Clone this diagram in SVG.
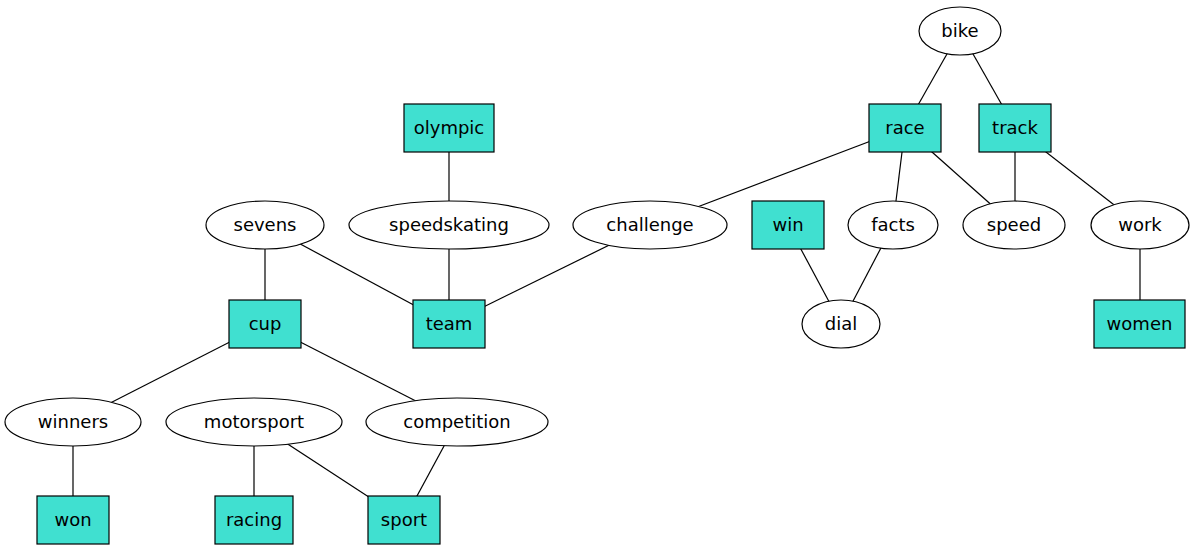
<svg xmlns="http://www.w3.org/2000/svg" width="1195" height="549" viewBox="0 0 1195 549">
<style>
.e{fill:#fff;stroke:#000;stroke-width:1.2}
.r{fill:#40e0d0;stroke:#000;stroke-width:1.2}
.c line{stroke:#000;stroke-width:1.2}
text{font-family:"DejaVu Sans",sans-serif;font-size:18px;text-anchor:middle;fill:#000}
</style>
<rect width="1195" height="549" fill="#fff"/>
<g id="connectors" class="c">
<line x1="960" y1="31" x2="905" y2="128"/>
<line x1="960" y1="31" x2="1015" y2="128"/>
<line x1="905" y1="128" x2="650" y2="225"/>
<line x1="905" y1="128" x2="893" y2="225"/>
<line x1="905" y1="128" x2="1014" y2="225"/>
<line x1="1015" y1="128" x2="1015" y2="225"/>
<line x1="1015" y1="128" x2="1140" y2="225"/>
<line x1="449" y1="128" x2="449" y2="225"/>
<line x1="449" y1="225" x2="449" y2="324"/>
<line x1="265" y1="225" x2="265" y2="324"/>
<line x1="265" y1="225" x2="449" y2="324"/>
<line x1="650" y1="225" x2="449" y2="324"/>
<line x1="788" y1="225" x2="841" y2="324"/>
<line x1="893" y1="225" x2="841" y2="324"/>
<line x1="1140" y1="225" x2="1140" y2="324"/>
<line x1="265" y1="324" x2="73" y2="422"/>
<line x1="265" y1="324" x2="457" y2="422"/>
<line x1="73" y1="422" x2="73" y2="520"/>
<line x1="254" y1="422" x2="254" y2="520"/>
<line x1="254" y1="422" x2="404" y2="520"/>
<line x1="457" y1="422" x2="404" y2="520"/>
</g>
<g id="bike"><ellipse class="e" cx="960" cy="31" rx="41" ry="24"/><text x="960" y="37">bike</text></g>
<g id="race"><rect class="r" x="869" y="104" width="72" height="48"/><text x="905" y="134">race</text></g>
<g id="track"><rect class="r" x="979" y="104" width="72" height="48"/><text x="1015" y="134">track</text></g>
<g id="olympic"><rect class="r" x="404" y="104" width="90" height="48"/><text x="449" y="134">olympic</text></g>
<g id="sevens"><ellipse class="e" cx="265" cy="225" rx="59" ry="24"/><text x="265" y="231">sevens</text></g>
<g id="speedskating"><ellipse class="e" cx="449" cy="225" rx="100" ry="24"/><text x="449" y="231">speedskating</text></g>
<g id="challenge"><ellipse class="e" cx="650" cy="225" rx="77" ry="24"/><text x="650" y="231">challenge</text></g>
<g id="win"><rect class="r" x="752" y="201" width="72" height="48"/><text x="788" y="231">win</text></g>
<g id="facts"><ellipse class="e" cx="893" cy="225" rx="45" ry="24"/><text x="893" y="231">facts</text></g>
<g id="speed"><ellipse class="e" cx="1014" cy="225" rx="51" ry="24"/><text x="1014" y="231">speed</text></g>
<g id="work"><ellipse class="e" cx="1140" cy="225" rx="49" ry="24"/><text x="1140" y="231">work</text></g>
<g id="cup"><rect class="r" x="229" y="300" width="72" height="48"/><text x="265" y="330">cup</text></g>
<g id="team"><rect class="r" x="413" y="300" width="72" height="48"/><text x="449" y="330">team</text></g>
<g id="dial"><ellipse class="e" cx="841" cy="324" rx="39" ry="24"/><text x="841" y="330">dial</text></g>
<g id="women"><rect class="r" x="1094" y="300" width="91" height="48"/><text x="1139.5" y="330">women</text></g>
<g id="winners"><ellipse class="e" cx="73" cy="422" rx="68" ry="24"/><text x="73" y="428">winners</text></g>
<g id="motorsport"><ellipse class="e" cx="254" cy="422" rx="88" ry="24"/><text x="254" y="428">motorsport</text></g>
<g id="competition"><ellipse class="e" cx="457" cy="422" rx="91" ry="24"/><text x="457" y="428">competition</text></g>
<g id="won"><rect class="r" x="37" y="496" width="72" height="48"/><text x="73" y="526">won</text></g>
<g id="racing"><rect class="r" x="215" y="496" width="78" height="48"/><text x="254" y="526">racing</text></g>
<g id="sport"><rect class="r" x="368" y="496" width="72" height="48"/><text x="404" y="526">sport</text></g>
</svg>
